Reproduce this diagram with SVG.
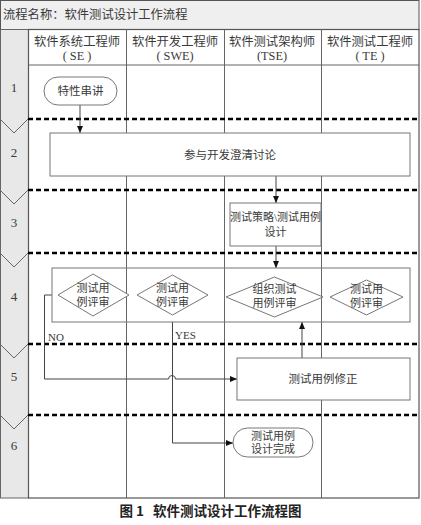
<svg xmlns="http://www.w3.org/2000/svg" width="421" height="525" viewBox="0 0 421 525">
<style>
.t{font-family:"Liberation Serif","Noto Sans CJK SC",serif;fill:#3a3a3a;}
.lane{stroke:#666;stroke-width:1;fill:none;}
.dash{stroke:#000;stroke-width:2.5;stroke-dasharray:5 3;fill:none;}
.box{fill:#fff;stroke:#777;stroke-width:1;}
.con{stroke:#444;stroke-width:1;fill:none;}
.chev{stroke:#666;stroke-width:1;fill:none;}
</style>
<defs>
<marker id="ah" markerWidth="8" markerHeight="8" refX="7" refY="4" orient="auto" markerUnits="userSpaceOnUse">
<path d="M0,1 L7,4 L0,7 Z" fill="#111"/>
</marker>
</defs>
<rect x="0" y="0" width="421" height="525" fill="#fff"/>
<!-- title bar -->
<rect x="0.5" y="0.5" width="418.5" height="29" fill="#efefef" stroke="#555"/>
<text class="t" x="3" y="19" font-size="12.3">流程名称：软件测试设计工作流程</text>
<!-- phase column -->
<rect x="0.5" y="29.5" width="28" height="468.5" fill="#e8e8e8" stroke="#666"/>
<rect x="28.5" y="29.5" width="390.5" height="468.5" fill="#fff" stroke="#555" stroke-width="1.2"/>
<line x1="28.5" y1="65" x2="419" y2="65" class="lane"/>
<line x1="126.5" y1="29.5" x2="126.5" y2="498" class="lane"/>
<line x1="224.5" y1="29.5" x2="224.5" y2="498" class="lane"/>
<line x1="321.5" y1="29.5" x2="321.5" y2="498" class="lane"/>
<!-- headers -->
<g font-size="12.3" text-anchor="middle">
<text class="t" x="77" y="46">软件系统工程师</text>
<text class="t" x="77" y="60">( SE )</text>
<text class="t" x="175" y="46">软件开发工程师</text>
<text class="t" x="175" y="60">( SWE)</text>
<text class="t" x="272" y="46">软件测试架构师</text>
<text class="t" x="272" y="60">(TSE)</text>
<text class="t" x="370" y="46">软件测试工程师</text>
<text class="t" x="370" y="60">( TE )</text>
</g>
<!-- chevrons -->
<g class="chev">
<path d="M0,119 L14,133 L28,119"/>
<path d="M0,190 L14,204 L28,190"/>
<path d="M0,253 L14,267 L28,253"/>
<path d="M0,344 L14,358 L28,344"/>
<path d="M0,415 L14,429 L28,415"/>
</g>
<g font-size="13" text-anchor="middle">
<text class="t" x="14" y="92">1</text>
<text class="t" x="14" y="157">2</text>
<text class="t" x="14" y="227">3</text>
<text class="t" x="14" y="301">4</text>
<text class="t" x="14" y="381">5</text>
<text class="t" x="14" y="450">6</text>
</g>
<!-- dashed phase separators -->
<g class="dash">
<line x1="28" y1="119" x2="419" y2="119"/>
<line x1="28" y1="190" x2="419" y2="190"/>
<line x1="28" y1="253" x2="419" y2="253"/>
<line x1="28" y1="344" x2="419" y2="344"/>
<line x1="28" y1="415" x2="419" y2="415"/>
</g>
<!-- connectors -->
<g id="connectors">
<line class="con" x1="80" y1="105" x2="80" y2="133" marker-end="url(#ah)"/>
<line class="con" x1="276" y1="176" x2="276" y2="203" marker-end="url(#ah)"/>
<line class="con" x1="276" y1="246" x2="276" y2="268" marker-end="url(#ah)"/>
<line class="con" x1="302" y1="358" x2="302" y2="322" marker-end="url(#ah)"/>
<path class="con" d="M52,295 L44.5,295 L44.5,379 L168.5,379 A3.5,3.5 0 0 1 175.5,379 L237,379" marker-end="url(#ah)"/>
<path class="con" d="M172.5,322 L172.5,443 L233,443" marker-end="url(#ah)"/>
<text class="t" x="48" y="341" font-size="11">NO</text>
<text class="t" x="175" y="339" font-size="11">YES</text>
</g>
<!-- nodes -->
<g id="n1">
<rect class="box" x="44" y="77" width="73" height="28" rx="14"/>
<text class="t" x="80.5" y="95" font-size="11.5" text-anchor="middle">特性串讲</text>
</g>
<g id="n2">
<rect class="box" x="50" y="133" width="360" height="43"/>
<text class="t" x="230" y="159" font-size="11.5" text-anchor="middle">参与开发澄清讨论</text>
</g>
<g id="n3">
<rect class="box" x="230" y="203" width="91" height="43"/>
<text class="t" x="275.5" y="221" font-size="11" text-anchor="middle">测试策略\测试用例</text>
<text class="t" x="275.5" y="236" font-size="11" text-anchor="middle">设计</text>
</g>
<g id="n4">
<rect x="52" y="268" width="358" height="54" fill="none" stroke="#777"/>
</g>
<g id="d1">
<polygon class="box" points="58,295 93,274 129,295 93,316"/>
<text class="t" x="93" y="292" font-size="11" text-anchor="middle">测试用</text>
<text class="t" x="93" y="306" font-size="11" text-anchor="middle">例评审</text>
</g>
<g id="d2">
<polygon class="box" points="137,295 172.5,275 208,295 172.5,315"/>
<text class="t" x="172.5" y="292" font-size="11" text-anchor="middle">测试用</text>
<text class="t" x="172.5" y="306" font-size="11" text-anchor="middle">例评审</text>
</g>
<g id="d3">
<polygon class="box" points="226,297 274.5,277 323,297 274.5,317"/>
<text class="t" x="274.5" y="293" font-size="11" text-anchor="middle">组织测试</text>
<text class="t" x="274.5" y="307" font-size="11" text-anchor="middle">用例评审</text>
</g>
<g id="d4">
<polygon class="box" points="330,297 366.5,280 403,297 366.5,315"/>
<text class="t" x="366.5" y="293" font-size="11" text-anchor="middle">测试用</text>
<text class="t" x="366.5" y="307" font-size="11" text-anchor="middle">例评审</text>
</g>
<g id="n5">
<rect class="box" x="237" y="358" width="173" height="42"/>
<text class="t" x="323" y="383" font-size="11.5" text-anchor="middle">测试用例修正</text>
</g>
<g id="n6">
<rect class="box" x="233" y="428" width="80" height="29" rx="14.5"/>
<text class="t" x="273" y="440" font-size="11" text-anchor="middle">测试用例</text>
<text class="t" x="273" y="453" font-size="11" text-anchor="middle">设计完成</text>
</g>
<text x="210.5" y="516" font-size="13.5" font-weight="bold" text-anchor="middle" fill="#222" font-family="'Noto Sans CJK SC','Liberation Sans',sans-serif" xml:space="preserve" style="white-space:pre">图 1   软件测试设计工作流程图</text>
</svg>
